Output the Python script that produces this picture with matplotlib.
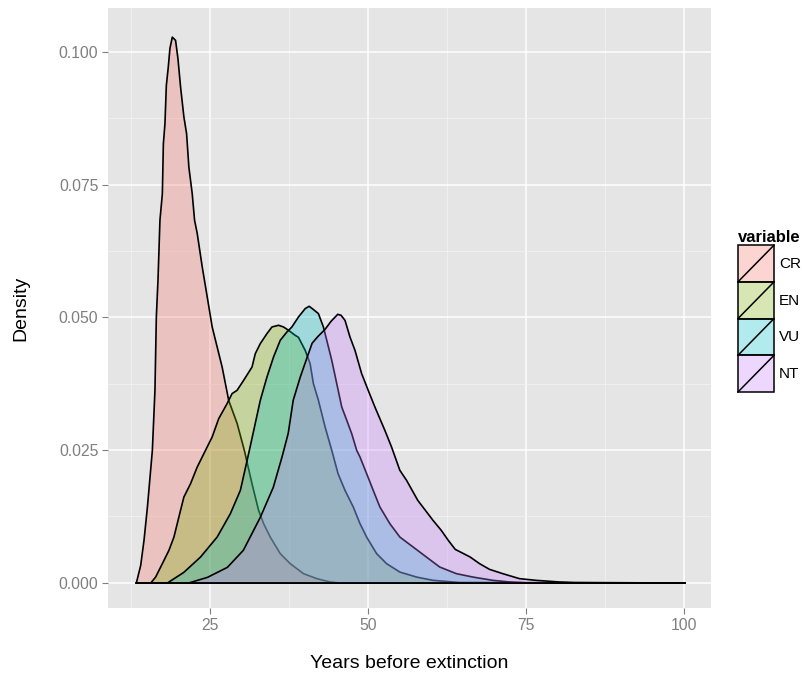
"""
Density of years before extinction for each IUCN category.
"""

import matplotlib
matplotlib.use("Agg")
import matplotlib.pyplot as plt
from matplotlib.legend_handler import HandlerBase
from matplotlib.lines import Line2D
from matplotlib.patches import Patch, Rectangle
from matplotlib.ticker import AutoMinorLocator, FormatStrFormatter

plt.rcParams['font.family'] = ['Liberation Sans', 'DejaVu Sans']

# density estimates, evaluated over the shared range of the data
x_lo, x_hi = 13.3, 100.0

cr_x = [13.3, 13.99, 14.51, 15.05, 15.83, 16.24, 16.46, 16.72, 17.03, 17.41,
        17.57, 17.82, 18.04, 18.35, 18.61, 18.98, 19.50, 19.87, 20.29, 20.81,
        21.24, 21.60, 22.13, 22.50, 22.92, 23.71, 24.59, 25.28, 26.07, 26.86,
        27.90, 29.22, 30.37, 31.58, 32.62, 33.41, 34.46, 36.04, 37.61, 39.71,
        41.82, 43.91, 45.5]
cr_y = [0, 0.00334, 0.00805, 0.01433, 0.0250, 0.0363, 0.0502, 0.0571, 0.0684, 0.0734,
        0.0828, 0.0866, 0.0938, 0.0973, 0.1008, 0.1029, 0.1023, 0.0989, 0.0935, 0.0879,
        0.0847, 0.0784, 0.0734, 0.0684, 0.0659, 0.0596, 0.0533, 0.0483, 0.0445, 0.0407,
        0.0344, 0.0301, 0.0250, 0.0187, 0.0137, 0.0112, 0.00867, 0.00554, 0.00366, 0.00177,
        0.00083, 0.0002, 0]

en_x = [15.57, 16.35, 17.41, 18.45, 19.24, 20.02, 20.81, 21.87, 22.92, 24.23,
        25.28, 26.32, 27.64, 28.43, 29.22, 30.26, 31.58, 32.10, 32.89, 33.94,
        34.73, 35.77, 36.56, 37.35, 38.40, 38.92, 39.98, 40.76, 41.28, 42.07,
        43.13, 44.18, 45.17, 46.27, 47.58, 48.64, 49.69, 51.27, 52.84, 54.94,
        57.57, 60.18, 64.4]
en_y = [0, 0.00113, 0.00366, 0.00617, 0.00867, 0.01244, 0.01621, 0.01874, 0.02187, 0.02502,
        0.02753, 0.03100, 0.03382, 0.03571, 0.03633, 0.03822, 0.04072, 0.04325, 0.04514, 0.04702,
        0.04827, 0.04859, 0.04827, 0.04764, 0.04670, 0.04632, 0.04387, 0.04137, 0.03759, 0.03445,
        0.02941, 0.02502, 0.02063, 0.01748, 0.01433, 0.01120, 0.00867, 0.00554, 0.00366, 0.00207,
        0.00113, 0.00051, 0.0001]

vu_x = [18.20, 20.81, 23.44, 26.07, 28.16, 29.74, 31.16, 32.89, 33.94, 34.98,
        36.04, 37.09, 37.88, 38.92, 39.98, 40.61, 41.24, 42.07, 42.86, 43.39,
        44.18, 44.97, 45.76, 46.55, 47.33, 48.12, 48.64, 49.69, 50.73, 51.79,
        53.36, 54.94, 57.04, 59.14, 61.24, 63.87, 66.48, 69.63, 72.26, 75.4]
vu_y = [0, 0.00202, 0.00490, 0.00867, 0.01308, 0.01748, 0.02502, 0.03445, 0.03884, 0.04261,
        0.04576, 0.04732, 0.04827, 0.05015, 0.05173, 0.05217, 0.05160, 0.05079, 0.04827, 0.04576,
        0.04199, 0.03759, 0.03318, 0.03068, 0.02817, 0.02502, 0.02376, 0.02063, 0.01748, 0.01433,
        0.01120, 0.00867, 0.00679, 0.00490, 0.00302, 0.00177, 0.00113, 0.00051, 0.0002, 0]

nt_x = [21.55, 24.54, 27.69, 30.21, 32.89, 34.94, 36.35, 37.30, 38.09, 39.19,
        40.29, 41.08, 42.02, 43.13, 44.07, 45.13, 45.65, 46.27, 47.06, 47.85,
        48.90, 49.94, 51.00, 52.57, 53.63, 54.94, 56.00, 57.77, 60.18, 61.48,
        62.59, 63.69, 66.06, 67.53, 69.11, 71.20, 73.83, 76.46, 80.13, 82.5]
nt_y = [0, 0.00107, 0.00296, 0.00617, 0.01239, 0.01804, 0.02389, 0.02822, 0.03445, 0.03878,
        0.04255, 0.04521, 0.04651, 0.04783, 0.04934, 0.05066, 0.05047, 0.04953, 0.04638, 0.04387,
        0.03948, 0.03633, 0.03318, 0.02879, 0.02564, 0.02125, 0.01936, 0.01559, 0.01182, 0.00994,
        0.00805, 0.00635, 0.00490, 0.00366, 0.00258, 0.00177, 0.00083, 0.00051, 0.0002, 0.0001]

categories = ['CR', 'EN', 'VU', 'NT']
colors = ['#F8766D', '#7CAE00', '#00BFC4', '#C77CFF']
series = [(cr_x, cr_y), (en_x, en_y), (vu_x, vu_y), (nt_x, nt_y)]
fill_alpha = 0.3


def full_range(xs, ys):
    """Pad a curve with zero density out to the shared x range."""
    xs, ys = list(xs), list(ys)
    if xs[0] > x_lo:
        xs, ys = [x_lo] + xs, [0.0] + ys
    if xs[-1] < x_hi:
        xs, ys = xs + [x_hi], ys + [0.0]
    return xs, ys


class SlashKey(HandlerBase):
    """Legend key: filled square with a diagonal stroke."""

    def create_artists(self, legend, orig_handle, xdescent, ydescent,
                       width, height, fontsize, trans):
        x0, y0 = -xdescent, -ydescent
        rect = Rectangle((x0, y0), width, height,
                         facecolor=orig_handle.get_facecolor(),
                         edgecolor='black', linewidth=1.1, transform=trans)
        slash = Line2D([x0, x0 + width], [y0, y0 + height],
                       color='black', linewidth=1.1, transform=trans)
        return [rect, slash]


fig = plt.figure(figsize=(8.03, 6.85), dpi=100)
ax = fig.add_axes([0.1345, 0.1124, 0.751, 0.8759])
ax.set_facecolor('#E5E5E5')

for (xs, ys), color in zip(series, colors):
    xs, ys = full_range(xs, ys)
    ax.fill_between(xs, ys, 0, facecolor=matplotlib.colors.to_rgba(color, fill_alpha),
                    edgecolor='black', linewidth=1.2)

ax.set_xlim(8.9, 104.2)
ax.set_ylim(-0.0048, 0.1083)
ax.set_xticks([25, 50, 75, 100])
ax.set_yticks([0.0, 0.025, 0.05, 0.075, 0.1])
ax.yaxis.set_major_formatter(FormatStrFormatter('%.3f'))
ax.xaxis.set_minor_locator(AutoMinorLocator(2))
ax.yaxis.set_minor_locator(AutoMinorLocator(2))

ax.grid(which='major', color='white', linewidth=1.1)
ax.grid(which='minor', color='#F2F2F2', linewidth=0.6)
ax.set_axisbelow(True)
for spine in ax.spines.values():
    spine.set_visible(False)

ax.tick_params(which='major', length=4, width=0.8, color='#7F7F7F',
               labelcolor='#7F7F7F', labelsize=11.3, pad=3)
ax.tick_params(which='minor', length=0)

ax.set_xlabel('Years before extinction', fontsize=14, labelpad=16)
ax.set_ylabel('Density', fontsize=14, labelpad=21)

handles = [Patch(facecolor=matplotlib.colors.to_rgba(c, fill_alpha), label=lab)
           for c, lab in zip(colors, categories)]
leg = fig.legend(handles=handles, loc='upper left', bbox_to_anchor=(0.919, 0.664),
                 frameon=False, title='variable', alignment='left',
                 title_fontproperties={'weight': 'bold', 'size': 12},
                 fontsize=11, handlelength=2.36, handleheight=3.32,
                 labelspacing=0.0, handletextpad=0.33, borderpad=0, borderaxespad=0,
                 handler_map={Patch: SlashKey()})

fig.savefig('out.png', dpi=100)
